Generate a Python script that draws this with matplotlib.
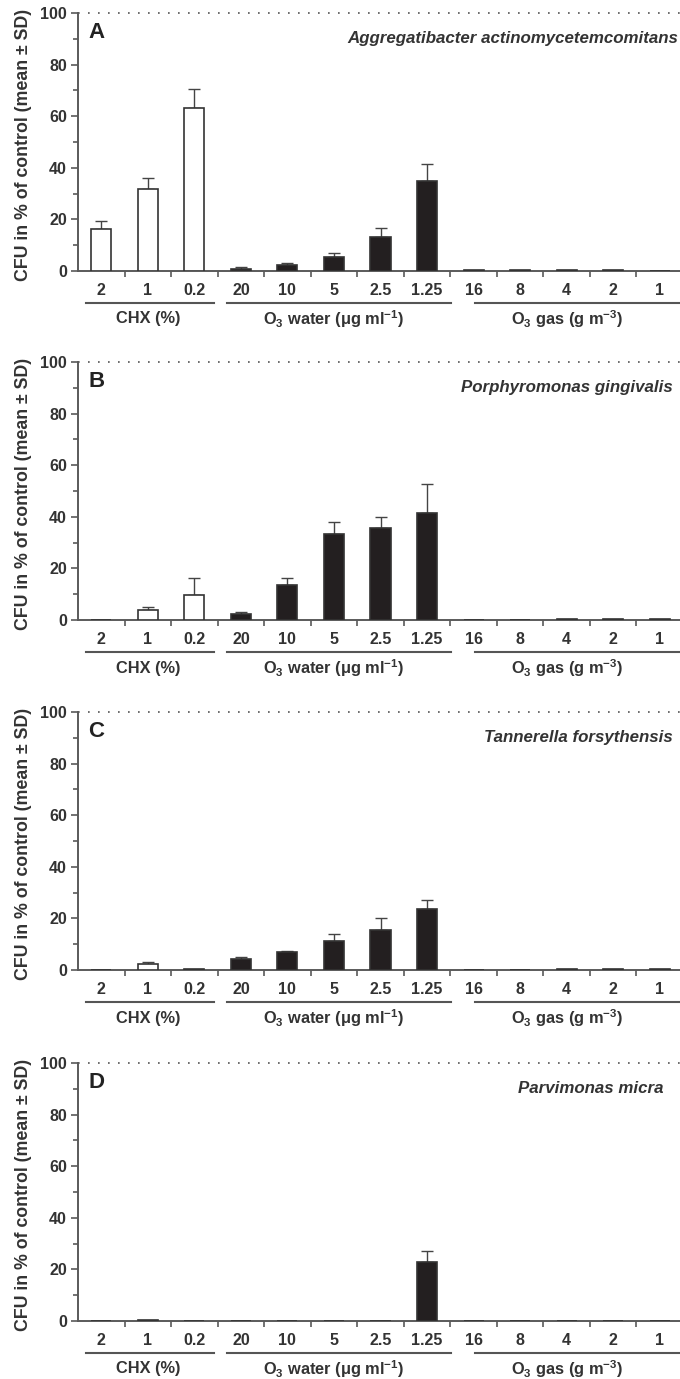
import numpy as np
import matplotlib
matplotlib.use('Agg')
import matplotlib.pyplot as plt
from matplotlib.transforms import blended_transform_factory, offset_copy

plt.rcParams['font.family'] = ['Liberation Sans', 'DejaVu Sans']
plt.rcParams['font.weight'] = 'bold'
plt.rcParams['mathtext.default'] = 'regular'

# ── DATA ────────────────────────────────────────────────────────────────────
categories = ['2', '1', '0.2', '20', '10', '5', '2.5', '1.25', '16', '8', '4', '2', '1']
group_names = ['CHX (%)', 'O$_3$ water (μg ml$^{-1}$)', 'O$_3$ gas (g m$^{-3}$)']
group_sizes = [3, 5, 5]
panel_letters = ['A', 'B', 'C', 'D']
species = ['Aggregatibacter actinomycetemcomitans', 'Porphyromonas gingivalis',
           'Tannerella forsythensis', 'Parvimonas micra']

meanA = [16.1, 31.8, 63.3, 0.9, 2.2, 5.6, 13.3, 34.7, 0.2, 0.2, 0.4, 0.4, 0.1]
sdA   = [3.4, 4.3, 7.1, 0.5, 1.0, 1.3, 3.2, 6.7, 0, 0, 0, 0, 0]
meanB = [0, 3.7, 9.8, 2.2, 13.4, 33.4, 35.5, 41.3, 0, 0, 0.3, 0.3, 0.4]
sdB   = [0, 1.2, 6.6, 0.8, 2.8, 4.5, 4.5, 11.3, 0, 0, 0, 0, 0]
meanC = [0, 2.3, 0.5, 4.1, 7.0, 11.2, 15.5, 23.7, 0, 0, 0.3, 0.3, 0.4]
sdC   = [0, 0.7, 0, 0.9, 0.4, 2.6, 4.5, 3.6, 0, 0, 0, 0, 0]
meanD = [0, 0.3, 0, 0, 0, 0, 0, 22.7, 0, 0, 0, 0, 0]
sdD   = [0, 0, 0, 0, 0, 0, 0, 4.3, 0, 0, 0, 0, 0]

means = [meanA, meanB, meanC, meanD]
sds = [sdA, sdB, sdC, sdD]

# ── LAYOUT ──────────────────────────────────────────────────────────────────
W, H = 680, 1379
fig = plt.figure(figsize=(W / 100, H / 100), dpi=100)
txt = '#333333'
axc = '#5a5a5a'
panel_top = [13, 362, 712, 1063]   # pixel row of the 100 line
panel_h = 258
species_right = [678, 673, 673, 663]   # pixel column where species name ends

x = np.arange(len(categories))
n_chx = group_sizes[0]

for i in range(4):
    top = panel_top[i]
    ax = fig.add_axes([78 / W, 1 - (top + panel_h) / H, 605 / W, panel_h / H])
    m = np.array(means[i]); s = np.array(sds[i])

    face = ['white'] * n_chx + ['#231f20'] * (len(x) - n_chx)
    ax.bar(x, m, width=0.43, color=face, edgecolor='#333333', linewidth=1.2, zorder=3)
    has = s > 0
    ax.errorbar(x[has], m[has], yerr=[np.zeros(has.sum()), s[has]], fmt='none',
                ecolor='#444444', elinewidth=1.0, capsize=4, capthick=1.0, zorder=2)

    ax.set_xlim(-0.5, 12.5)
    ax.set_ylim(0, 100)
    ax.axhline(100, color='#555555', lw=1.2, ls=(0, (1, 5)), clip_on=False)

    for side in ['top', 'right']:
        ax.spines[side].set_visible(False)
    for side in ['left', 'bottom']:
        ax.spines[side].set_color(axc)
        ax.spines[side].set_linewidth(1.4)

    ax.set_yticks(np.arange(0, 101, 20))
    ax.set_yticks(np.arange(10, 100, 20), minor=True)
    ax.set_xticks(x)
    ax.set_xticklabels(categories)
    ax.set_xticks(np.arange(0.5, 12, 1), minor=True)
    ax.tick_params(axis='y', which='major', direction='out', length=5, width=1.2,
                   color=axc, labelsize=11.5, labelcolor=txt, pad=3)
    ax.tick_params(axis='y', which='minor', direction='out', length=3.5, width=1.2, color=axc)
    ax.tick_params(axis='x', which='major', length=0, labelsize=11.5, labelcolor=txt, pad=8.5)
    ax.tick_params(axis='x', which='minor', direction='out', length=4, width=1.2, color=axc)

    ax.set_ylabel('CFU in % of control (mean ± SD)', fontsize=12.8, color=txt, fontweight='bold')
    ax.yaxis.set_label_coords(-46 / 605, 0.49)

    # group underlines and names
    trans = blended_transform_factory(ax.transData, ax.transAxes)
    line_tr = offset_copy(trans, fig=fig, y=-32, units='dots')
    lab_tr = offset_copy(trans, fig=fig, y=-48, units='dots')
    start = 0
    spans = [(-0.32, 2.43), (2.71, 7.51), (8.02, 12.6)]
    for g, n in enumerate(group_sizes):
        x0, x1 = spans[g]
        ax.plot([x0, x1], [0, 0], color='#555555', lw=1.5, transform=line_tr, clip_on=False)
        ax.text(start + (n - 1) / 2, 0, group_names[g], transform=lab_tr, ha='center',
                va='center', fontsize=11.8, color=txt, fontweight='bold')
        start += n

    ax.text(10 / 605, 0.925, panel_letters[i], transform=ax.transAxes, ha='left', va='center',
            fontsize=16, color='#222222', fontweight='bold')
    ax.text((species_right[i] - 78) / 605, 0.9, species[i], transform=ax.transAxes,
            ha='right', va='center', fontsize=12.2, color=txt, fontweight='bold',
            style='italic', clip_on=False)

fig.savefig('out.png', dpi=100)
